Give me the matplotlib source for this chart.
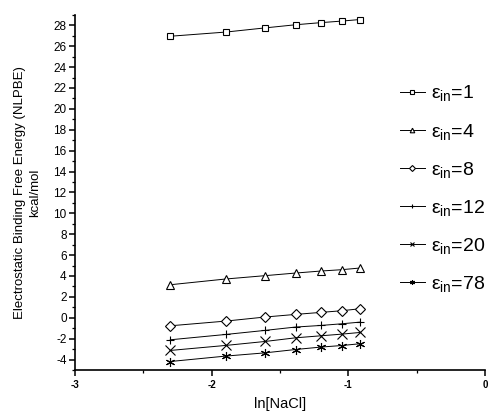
import matplotlib
matplotlib.use("Agg")
import matplotlib.pyplot as plt
from matplotlib.ticker import MultipleLocator

plt.rcParams["font.family"] = ["Liberation Sans", "DejaVu Sans"]
plt.rcParams["mathtext.fontset"] = "custom"
plt.rcParams["mathtext.rm"] = "Liberation Sans"
plt.rcParams["mathtext.it"] = "Liberation Sans"
plt.rcParams["axes.unicode_minus"] = False

# ln[NaCl] fuer 0.1 ... 0.4 M
ln_nacl = [-2.303, -1.897, -1.609, -1.386, -1.204, -1.050, -0.916]

eps_1 = [26.95, 27.35, 27.75, 28.05, 28.25, 28.40, 28.55]
eps_4 = [3.16, 3.71, 4.03, 4.28, 4.47, 4.60, 4.76]
eps_8 = [-0.77, -0.32, 0.07, 0.32, 0.51, 0.67, 0.86]
eps_12 = [-2.11, -1.60, -1.21, -0.89, -0.74, -0.58, -0.42]
eps_20 = [-3.13, -2.65, -2.27, -1.92, -1.73, -1.57, -1.41]
eps_78 = [-4.19, -3.67, -3.36, -3.04, -2.81, -2.66, -2.49]

labels = ["1", "4", "8", "12", "20", "78"]
series = [eps_1, eps_4, eps_8, eps_12, eps_20, eps_78]
markers = ["s", "^", "D", "+", "x", (6, 2, 0)]
sizes = [4.5, 6, 5.5, 6, 6.5, 6.5]

fig = plt.figure(figsize=(4.9, 4.12), dpi=100)
ax = fig.add_axes([0.153, 0.102, 0.837, 0.862])

for vals, lab, m, s in zip(series, labels, markers, sizes):
    ax.plot(ln_nacl, vals, color="black", linewidth=0.7, marker=m,
            markersize=s, markerfacecolor="white", markeredgecolor="black",
            markeredgewidth=0.8, label=r"$\mathrm{\varepsilon_{in}}$=" + lab)

ax.set_xlim(-3, 0)
ax.set_ylim(-5, 29)
ax.xaxis.set_major_locator(MultipleLocator(1))
ax.xaxis.set_minor_locator(MultipleLocator(0.5))
ax.set_yticks(range(-4, 29, 2))
ax.yaxis.set_minor_locator(MultipleLocator(1))

for side in ["top", "right"]:
    ax.spines[side].set_visible(False)
ax.spines["left"].set_linewidth(1.2)
ax.spines["bottom"].set_linewidth(1.2)
ax.tick_params(which="major", direction="out", length=4, width=1.1)
ax.tick_params(which="minor", direction="out", length=2, width=0.9)
ax.tick_params(axis="y", labelsize=8.5, pad=2)
ax.tick_params(axis="x", labelsize=7)
for t in ax.get_xticklabels():
    t.set_fontweight("bold")

ax.set_xlabel("ln[NaCl]", fontsize=10.5, labelpad=5)
ax.set_ylabel("Electrostatic Binding Free Energy (NLPBE)\nkcal/mol",
              fontsize=9.5, labelpad=9, linespacing=1.35)

fig.legend(loc="upper left", bbox_to_anchor=(0.78, 0.84), frameon=False,
           fontsize=14, handlelength=1.3, handletextpad=0.3,
           labelspacing=0.93, markerscale=0.55)

fig.savefig("out.png", dpi=100)
